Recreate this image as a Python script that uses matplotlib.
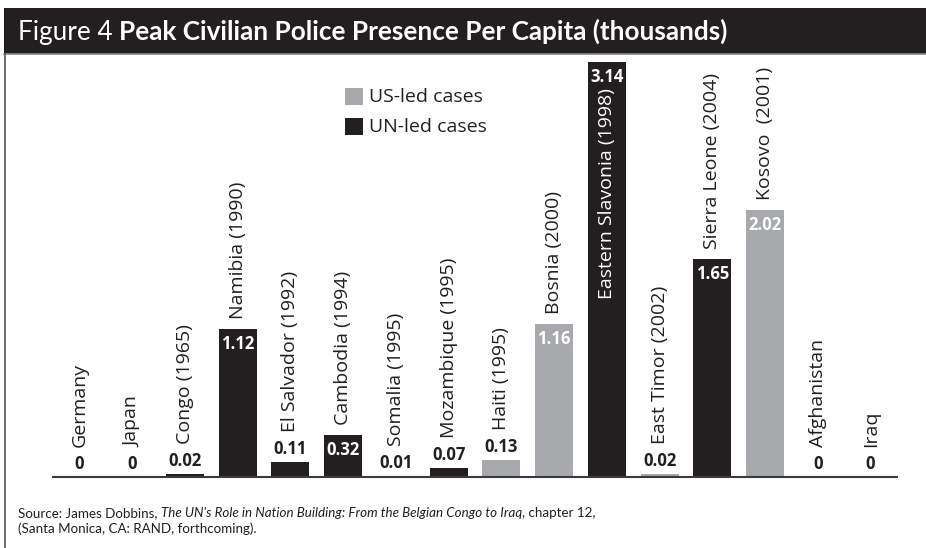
import matplotlib.pyplot as plt
from matplotlib.lines import Line2D
from matplotlib.patches import Rectangle

countries = ['Germany', 'Japan', 'Congo (1965)', 'Namibia (1990)', 'El Salvador (1992)',
             'Cambodia (1994)', 'Somalia (1995)', 'Mozambique (1995)', 'Haiti (1995)',
             'Bosnia (2000)', 'Eastern Slavonia (1998)', 'East Timor (2002)',
             'Sierra Leone (2004)', 'Kosovo  (2001)', 'Afghanistan', 'Iraq']
police = [0, 0, 0.02, 1.12, 0.11, 0.32, 0.01, 0.07, 0.13, 1.16, 3.14, 0.02, 1.65, 2.02, 0, 0]
lead = ['US', 'US', 'UN', 'UN', 'UN', 'UN', 'UN', 'UN', 'US', 'US', 'UN', 'US', 'UN', 'US', 'US', 'US']
value_labels = ['0', '0', '0.02', '1.12', '0.11', '0.32', '0.01', '0.07', '0.13', '1.16',
                '3.14', '0.02', '1.65', '2.02', '0', '0']

DARK = '#231f20'
GREY = '#a7a9ac'
W, H = 926, 548
narrow = 'Lato'
plt.rcParams['font.family'] = 'Open Sans'

fig = plt.figure(figsize=(W / 100, H / 100), dpi=100)

# title band and frame
fig.add_artist(Rectangle((4 / W, 1 - 54 / H), 1, 46 / H, transform=fig.transFigure,
                         color=DARK, lw=0))
fig.add_artist(Line2D([4 / W, 1], [1 - 54 / H] * 2, color='#8a8a8a', lw=1.2))
fig.add_artist(Line2D([4.5 / W] * 2, [0, 1 - 54 / H], color='#555555', lw=1.2))

ax = fig.add_axes([53 / W, 1 - 477 / H, 844 / W, 415 / H])
x = list(range(len(countries)))
colors = [DARK if l == 'UN' else GREY for l in lead]
ax.bar(x, police, width=0.72, color=colors)
ax.set_xlim(-0.5, len(countries) - 0.5)
ax.set_ylim(0, 3.14)
ax.axis('off')
ax.axhline(0, color='#3a3a3a', lw=1.5, clip_on=False)

for i, (name, v, lab) in enumerate(zip(countries, police, value_labels)):
    inside = v >= 0.3
    if inside:
        ax.annotate(lab, xy=(i, v), xytext=(0, -6), textcoords='offset pixels',
                    ha='center', va='top', color='white', fontsize=12, fontweight='bold')
    else:
        ax.annotate(lab, xy=(i, v), xytext=(0, 4), textcoords='offset pixels',
                    ha='center', va='bottom', color=DARK, fontsize=12, fontweight='bold')
    if name.startswith('Eastern'):
        ax.annotate(name, xy=(i, v), xytext=(0, -26), textcoords='offset pixels',
                    ha='center', va='top', rotation=90, color='white', fontsize=14)
    else:
        off = 10 if inside else 30
        ax.annotate(name, xy=(i, v), xytext=(0, off), textcoords='offset pixels',
                    ha='center', va='bottom', rotation=90, color=DARK, fontsize=14)

# legend
for row, (lbl, c) in enumerate([('US-led cases', GREY), ('UN-led cases', DARK)]):
    top = 88 + row * 30
    fig.add_artist(Rectangle((345 / W, 1 - (top + 17) / H), 18 / W, 17 / H,
                             transform=fig.transFigure, color=c, lw=0))
    fig.text(369 / W, 1 - (top + 8.5) / H, lbl, fontsize=14, va='center', color=DARK)

renderer = fig.canvas.get_renderer()


def run_text(parts, x0, y, size):
    # draw consecutive text pieces with different styles on one baseline
    xpos = x0
    for s, kw in parts:
        t = fig.text(xpos / W, 1 - y / H, s, fontsize=size, va='baseline',
                     family=narrow, **kw)
        xpos = t.get_window_extent(renderer).x1


run_text([('Figure 4 ', dict(color='white')),
          ('Peak Civilian Police Presence Per Capita (thousands)',
           dict(color='white', fontweight='bold'))], 18, 40, 18.8)

run_text([('Source: James Dobbins, ', dict(color=DARK)),
          ("The UN's Role in Nation Building: From the Belgian Congo to Iraq",
           dict(color=DARK, style='italic')),
          (', chapter 12,', dict(color=DARK))], 18, 517, 9.65)
run_text([('(Santa Monica, CA: RAND, forthcoming).', dict(color=DARK))], 18, 533, 9.65)

fig.savefig('out.png', dpi=100)
